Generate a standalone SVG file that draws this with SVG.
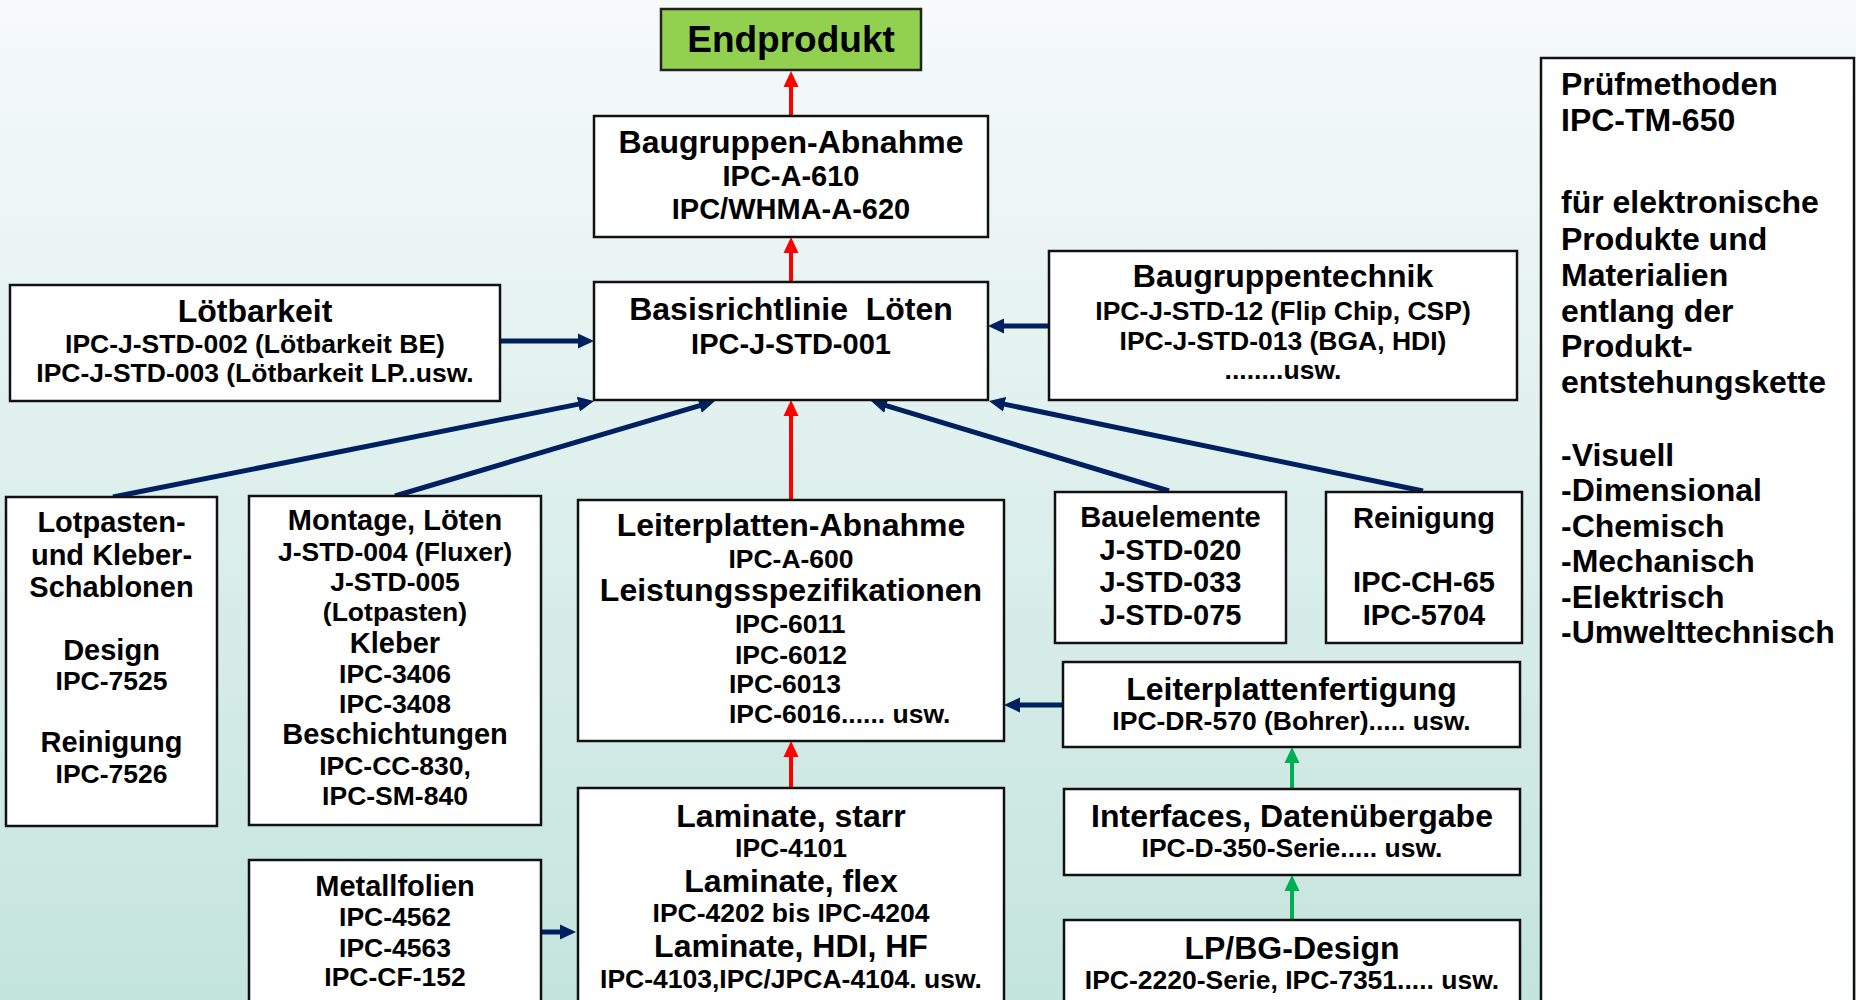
<svg xmlns="http://www.w3.org/2000/svg" width="1856" height="1000" viewBox="0 0 1856 1000">
<defs>
<linearGradient id="bg" x1="0" y1="0" x2="0" y2="1">
<stop offset="0" stop-color="#f6fafa"/>
<stop offset="1" stop-color="#c4e4de"/>
</linearGradient>
<marker id="aNavy" markerUnits="userSpaceOnUse" markerWidth="16" markerHeight="16" refX="8" refY="8" orient="auto"><path d="M0,0.5 L16,8 L0,15.5 z" fill="#002060"/></marker>
<marker id="aRed" markerUnits="userSpaceOnUse" markerWidth="16" markerHeight="16" refX="8" refY="8" orient="auto"><path d="M0,0.5 L16,8 L0,15.5 z" fill="#ff0000"/></marker>
<marker id="aGreen" markerUnits="userSpaceOnUse" markerWidth="16" markerHeight="16" refX="8" refY="8" orient="auto"><path d="M0,0.5 L16,8 L0,15.5 z" fill="#00b050"/></marker>
<style>
.box{fill:#ffffff;stroke:#111111;stroke-width:2.5}
text{font-family:"Liberation Sans",Arial,sans-serif;font-weight:bold;fill:#000000;text-anchor:middle}
.t37{font-size:37px}
.t32{font-size:32px}
.t29{font-size:29px}
.t26{font-size:26.5px}
.l{text-anchor:start}
.navy{stroke:#002060;stroke-width:5;fill:none;marker-end:url(#aNavy)}
.red{stroke:#ff0000;stroke-width:4;fill:none;marker-end:url(#aRed)}
.green{stroke:#00b050;stroke-width:4;fill:none;marker-end:url(#aGreen)}
</style>
</defs>
<rect x="0" y="0" width="1856" height="1000" fill="url(#bg)"/>

<g id="connectors">
<line class="red" x1="791" y1="116" x2="791" y2="79"/>
<line class="red" x1="791" y1="282" x2="791" y2="245"/>
<line class="red" x1="791" y1="500" x2="791" y2="408"/>
<line class="red" x1="791" y1="788" x2="791" y2="749"/>
<line class="navy" x1="500" y1="341" x2="586" y2="341"/>
<line class="navy" x1="1049" y1="326" x2="996" y2="326"/>
<line class="navy" x1="113" y1="497" x2="586.2" y2="402.6"/>
<line class="navy" x1="395" y1="496" x2="707.3" y2="403.3"/>
<line class="navy" x1="1169" y1="491" x2="878.7" y2="403.3"/>
<line class="navy" x1="1423" y1="491" x2="996.8" y2="402.6"/>
<line class="navy" x1="1063" y1="705" x2="1012" y2="705"/>
<line class="navy" x1="541" y1="932" x2="568" y2="932"/>
<line class="green" x1="1292" y1="789" x2="1292" y2="755"/>
<line class="green" x1="1292" y1="920" x2="1292" y2="883"/>
</g>

<g id="endprodukt">
<rect x="661" y="9" width="260" height="61" fill="#92d050" stroke="#222" stroke-width="2.5"/>
<text class="t37" x="791" y="52">Endprodukt</text>
</g>

<g id="baugruppen-abnahme">
<rect class="box" x="594" y="116" width="394" height="121"/>
<text class="t32" x="791" y="153">Baugruppen-Abnahme</text>
<text class="t29" x="791" y="186">IPC-A-610</text>
<text class="t29" x="791" y="219">IPC/WHMA-A-620</text>
</g>

<g id="basisrichtlinie">
<rect class="box" x="594" y="282" width="394" height="118"/>
<text class="t32" x="791" y="320" xml:space="preserve">Basisrichtlinie  Löten</text>
<text class="t29" x="791" y="354">IPC-J-STD-001</text>
</g>

<g id="loetbarkeit">
<rect class="box" x="10" y="285" width="490" height="116"/>
<text class="t32" x="255" y="322">Lötbarkeit</text>
<text class="t26" x="255" y="353">IPC-J-STD-002 (Lötbarkeit BE)</text>
<text class="t26" x="255" y="382">IPC-J-STD-003 (Lötbarkeit LP..usw.</text>
</g>

<g id="baugruppentechnik">
<rect class="box" x="1049" y="251" width="468" height="149"/>
<text class="t32" x="1283" y="287">Baugruppentechnik</text>
<text class="t26" x="1283" y="320">IPC-J-STD-12 (Flip Chip, CSP)</text>
<text class="t26" x="1283" y="350">IPC-J-STD-013 (BGA, HDI)</text>
<text class="t26" x="1283" y="379">........usw.</text>
</g>

<g id="pruefmethoden">
<rect class="box" x="1541" y="58" width="313" height="960"/>
<text class="t32 l" x="1561" y="95">Prüfmethoden</text>
<text class="t32 l" x="1561" y="131">IPC-TM-650</text>
<text class="t32 l" x="1561" y="213">für elektronische</text>
<text class="t32 l" x="1561" y="250">Produkte und</text>
<text class="t32 l" x="1561" y="286">Materialien</text>
<text class="t32 l" x="1561" y="322">entlang der</text>
<text class="t32 l" x="1561" y="357">Produkt-</text>
<text class="t32 l" x="1561" y="393">entstehungskette</text>
<text class="t32 l" x="1561" y="466">-Visuell</text>
<text class="t32 l" x="1561" y="501">-Dimensional</text>
<text class="t32 l" x="1561" y="537">-Chemisch</text>
<text class="t32 l" x="1561" y="572">-Mechanisch</text>
<text class="t32 l" x="1561" y="608">-Elektrisch</text>
<text class="t32 l" x="1561" y="643">-Umwelttechnisch</text>
</g>

<g id="lotpasten">
<rect class="box" x="6" y="497" width="211" height="329"/>
<text class="t29" x="111.5" y="532">Lotpasten-</text>
<text class="t29" x="111.5" y="565">und Kleber-</text>
<text class="t29" x="111.5" y="597">Schablonen</text>
<text class="t29" x="111.5" y="660">Design</text>
<text class="t26" x="111.5" y="690">IPC-7525</text>
<text class="t29" x="111.5" y="752">Reinigung</text>
<text class="t26" x="111.5" y="783">IPC-7526</text>
</g>

<g id="montage">
<rect class="box" x="249" y="496" width="292" height="329"/>
<text class="t29" x="395" y="530">Montage, Löten</text>
<text class="t26" x="395" y="561">J-STD-004 (Fluxer)</text>
<text class="t26" x="395" y="591">J-STD-005</text>
<text class="t26" x="395" y="621">(Lotpasten)</text>
<text class="t29" x="395" y="653">Kleber</text>
<text class="t26" x="395" y="683">IPC-3406</text>
<text class="t26" x="395" y="713">IPC-3408</text>
<text class="t29" x="395" y="744">Beschichtungen</text>
<text class="t26" x="395" y="775">IPC-CC-830,</text>
<text class="t26" x="395" y="805">IPC-SM-840</text>
</g>

<g id="leiterplatten-abnahme">
<rect class="box" x="578" y="500" width="426" height="241"/>
<text class="t32" x="791" y="536">Leiterplatten-Abnahme</text>
<text class="t26" x="791" y="568">IPC-A-600</text>
<text class="t32" x="791" y="601">Leistungsspezifikationen</text>
<text class="t26 l" x="735" y="633">IPC-6011</text>
<text class="t26 l" x="735" y="664">IPC-6012</text>
<text class="t26 l" x="729" y="693">IPC-6013</text>
<text class="t26 l" x="729" y="723">IPC-6016...... usw.</text>
</g>

<g id="laminate">
<rect class="box" x="578" y="788" width="426" height="230"/>
<text class="t32" x="791" y="827">Laminate, starr</text>
<text class="t26" x="791" y="857">IPC-4101</text>
<text class="t32" x="791" y="892">Laminate, flex</text>
<text class="t26" x="791" y="922">IPC-4202 bis IPC-4204</text>
<text class="t32" x="791" y="957">Laminate, HDI, HF</text>
<text class="t26" x="791" y="988">IPC-4103,IPC/JPCA-4104. usw.</text>
</g>

<g id="metallfolien">
<rect class="box" x="249" y="860" width="292" height="158"/>
<text class="t29" x="395" y="896">Metallfolien</text>
<text class="t26" x="395" y="926">IPC-4562</text>
<text class="t26" x="395" y="957">IPC-4563</text>
<text class="t26" x="395" y="986">IPC-CF-152</text>
</g>

<g id="bauelemente">
<rect class="box" x="1055" y="492" width="231" height="151"/>
<text class="t29" x="1170.5" y="527">Bauelemente</text>
<text class="t29" x="1170.5" y="560">J-STD-020</text>
<text class="t29" x="1170.5" y="592">J-STD-033</text>
<text class="t29" x="1170.5" y="625">J-STD-075</text>
</g>

<g id="reinigung">
<rect class="box" x="1326" y="492" width="196" height="151"/>
<text class="t29" x="1424" y="528">Reinigung</text>
<text class="t29" x="1424" y="592">IPC-CH-65</text>
<text class="t29" x="1424" y="625">IPC-5704</text>
</g>

<g id="leiterplattenfertigung">
<rect class="box" x="1063" y="662" width="457" height="85"/>
<text class="t32" x="1291.5" y="700">Leiterplattenfertigung</text>
<text class="t26" x="1291.5" y="730">IPC-DR-570 (Bohrer)..... usw.</text>
</g>

<g id="interfaces">
<rect class="box" x="1064" y="789" width="456" height="86"/>
<text class="t32" x="1292" y="827">Interfaces, Datenübergabe</text>
<text class="t26" x="1292" y="857">IPC-D-350-Serie..... usw.</text>
</g>

<g id="lpbg-design">
<rect class="box" x="1064" y="920" width="456" height="98"/>
<text class="t32" x="1292" y="959">LP/BG-Design</text>
<text class="t26" x="1292" y="989">IPC-2220-Serie, IPC-7351..... usw.</text>
</g>
</svg>
